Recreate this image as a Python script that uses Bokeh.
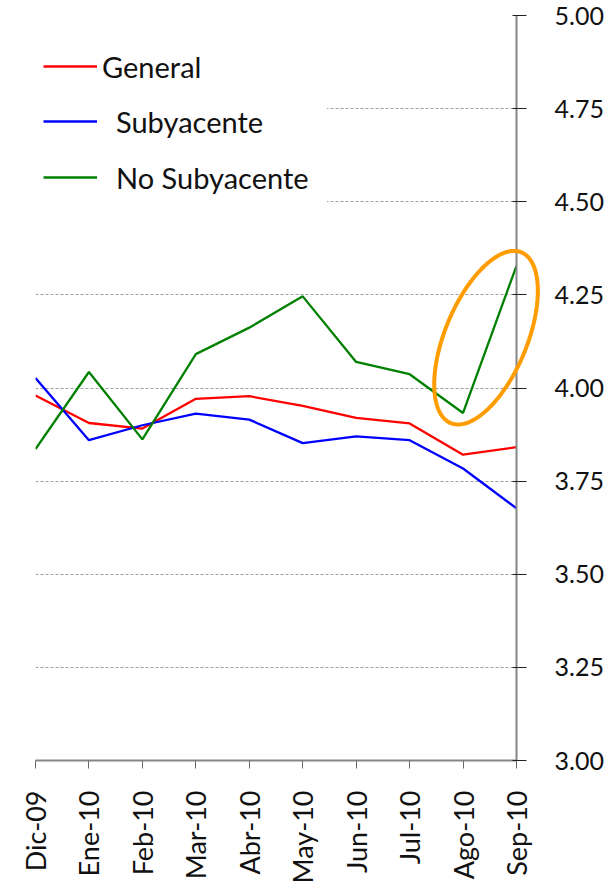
import math
import numpy as np
from bokeh.plotting import figure
from bokeh.models import (Range1d, FixedTicker, Legend, LegendItem,
                          PrintfTickFormatter)
from bokeh.embed import file_html
from bokeh.resources import INLINE

months = ["Dic-09", "Ene-10", "Feb-10", "Mar-10", "Abr-10", "May-10",
          "Jun-10", "Jul-10", "Ago-10", "Sep-10"]
general = [3.980, 3.906, 3.891, 3.971, 3.978, 3.952, 3.920, 3.905, 3.821, 3.841]
subyacente = [4.027, 3.860, 3.900, 3.931, 3.915, 3.852, 3.870, 3.860, 3.784, 3.677]
no_subyacente = [3.836, 4.043, 3.862, 4.091, 4.162, 4.246, 4.070, 4.037, 3.933, 4.328]
y_ticks = [3.00, 3.25, 3.50, 3.75, 4.00, 4.25, 4.50, 4.75, 5.00]

# highlight ellipse around the last jump of "No Subyacente" (centre in data units)
hl_x = 8.43
hl_y = 4.135

FONT = "Lato"
W, H = 616, 886
BL, BR, BT, BB = 35, 100, 15, 126
FW, FH = W - BL - BR, H - BT - BB
xs = list(range(len(months)))
x0, x1, y0, y1 = 0, len(months) - 1, 3.0, 5.0

p = figure(width=W, height=H, output_backend="svg", toolbar_location=None,
           x_range=Range1d(x0, x1), y_range=Range1d(y0, y1),
           y_axis_location="right", min_border_left=BL, min_border_right=BR,
           min_border_top=BT, min_border_bottom=BB)
p.outline_line_color = None
p.background_fill_color = "white"

# grid
p.xgrid.visible = False
p.ygrid.ticker = FixedTicker(ticks=y_ticks)
p.ygrid.grid_line_color = "#a0a0a0"
p.ygrid.grid_line_dash = "3 2"
p.ygrid.grid_line_width = 1

# x axis
xa = p.xaxis[0]
xa.ticker = FixedTicker(ticks=xs)
xa.major_label_overrides = {i: m for i, m in enumerate(months)}
xa.major_label_orientation = math.pi / 2
xa.major_label_text_font = FONT
xa.major_label_text_font_size = "27px"
xa.major_label_text_color = "#111111"
xa.major_label_standoff = 22
xa.axis_line_color = "#868686"
xa.axis_line_width = 2
xa.major_tick_line_color = "#6a6a6a"
xa.major_tick_in = 0
xa.major_tick_out = 8
xa.minor_tick_line_color = None

# y axis (right)
ya = p.yaxis[0]
ya.ticker = FixedTicker(ticks=y_ticks)
ya.formatter = PrintfTickFormatter(format="%.2f")
ya.major_label_text_font = FONT
ya.major_label_text_font_size = "25px"
ya.major_label_text_color = "#111111"
ya.major_label_standoff = 28
ya.axis_line_color = "#868686"
ya.axis_line_width = 2
ya.major_tick_line_color = "#222222"
ya.major_tick_in = 4
ya.major_tick_out = 10
ya.minor_tick_line_color = None

r_gen = p.line(xs, general, line_color="#FF0000", line_width=2.3)
r_sub = p.line(xs, subyacente, line_color="#0000FF", line_width=2.3)
r_nos = p.line(xs, no_subyacente, line_color="#008000", line_width=2.3)

# tilted ellipse outline, semi-axes in screen pixels; overlay level so it is
# not clipped at the frame edge (it crosses the right axis as in the original)
a_px, b_px, theta = 92.4, 41.0, math.radians(67.5)
t = np.linspace(0, 2 * np.pi, 161)
dx = a_px * np.cos(t) * math.cos(theta) - b_px * np.sin(t) * math.sin(theta)
dy = a_px * np.cos(t) * math.sin(theta) + b_px * np.sin(t) * math.cos(theta)
ex = hl_x + dx * (x1 - x0) / FW
ey = hl_y + dy * (y1 - y0) / FH
p.patch(list(ex), list(ey), fill_alpha=0, line_color="#FF9C00", line_width=4,
        level="overlay")

def make_legend(items, standoff, loc):
    return Legend(items=items, location=loc, orientation="vertical",
                  label_text_font=FONT, label_text_font_size="29px",
                  label_text_color="#111111", label_standoff=standoff,
                  glyph_width=54, glyph_height=50, label_height=50,
                  label_width=203, spacing=6, padding=8, margin=0,
                  background_fill_color="white", background_fill_alpha=1.0,
                  border_line_color="white", border_line_alpha=0.0)

leg_a = make_legend([LegendItem(label="General", renderers=[r_gen])], 5, (0, 661))
leg_b = make_legend([LegendItem(label="Subyacente", renderers=[r_sub]),
                     LegendItem(label="No Subyacente", renderers=[r_nos])], 19, (0, 550))
p.add_layout(leg_b)
p.add_layout(leg_a)

open("out.html", "w").write(file_html(p, INLINE))
